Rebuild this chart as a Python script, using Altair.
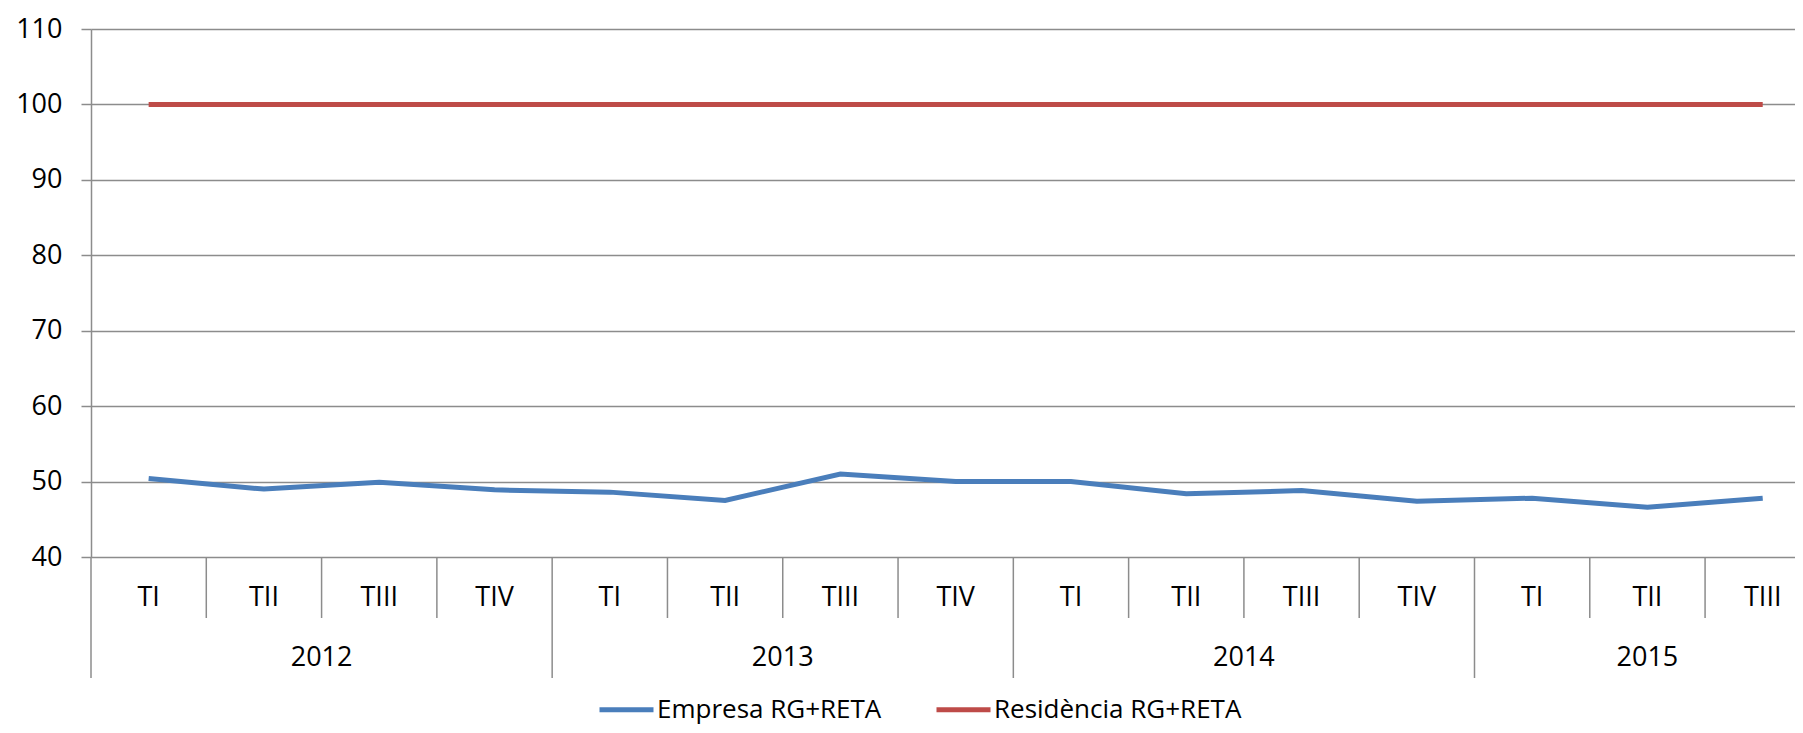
import altair as alt
import pandas as pd

# ---- data ----
quarters = ["TI", "TII", "TIII", "TIV", "TI", "TII", "TIII", "TIV",
            "TI", "TII", "TIII", "TIV", "TI", "TII", "TIII"]
years = ["2012"] * 4 + ["2013"] * 4 + ["2014"] * 4 + ["2015"] * 3
empresa = [50.4, 49.0, 49.9, 48.9, 48.6, 47.5, 51.0, 50.0,
           50.0, 48.4, 48.8, 47.4, 47.8, 46.6, 47.8]
residencia = [100, 100, 100, 100, 100, 100, 100, 100,
              100, 100, 100, 100, 100, 100, 100]
series_names = ["Empresa RG+RETA", "Residència RG+RETA"]
series_colors = ["#4a7ebb", "#be4b48"]
y_ticks = [40, 50, 60, 70, 80, 90, 100, 110]

FONT = "Open Sans"
GRID = "#8c8c8c"
XMAX = 14.78  # visible part of the 15 category bands (reference is cropped on the right)
H = 528
PX = H / 70.0  # pixels per y unit

def below(px):
    """y value located px pixels below the 40 baseline (category axis area)."""
    return 40 - px / PX

# ---- tables ----
rows = []
for i in range(len(quarters)):
    rows.append({"pos": i + 0.5, "value": empresa[i], "series": series_names[0]})
    rows.append({"pos": i + 0.5, "value": residencia[i], "series": series_names[1]})
df = pd.DataFrame(rows)

qdf = pd.DataFrame({"pos": [i + 0.5 for i in range(len(quarters))], "q": quarters,
                    "y": below(41)})

year_list = []
for yv in years:
    if yv not in year_list:
        year_list.append(yv)
ydf_rows, start = [], 0
year_bounds = [0]
for yv in year_list:
    n = years.count(yv)
    ydf_rows.append({"pos": start + n / 2, "year": yv, "y": below(101)})
    start += n
    year_bounds.append(start)
ydf = pd.DataFrame(ydf_rows)

sep_rows = []
for i in range(0, len(quarters) + 1):
    if i >= XMAX:
        continue
    long = i in year_bounds
    sep_rows.append({"pos": i, "y": 40, "y2": below(121 if long else 61)})
sep_df = pd.DataFrame(sep_rows)

xscale = alt.Scale(domain=[0, XMAX], nice=False, zero=False)
yscale = alt.Scale(domain=[40, 110], nice=False, zero=False)

seps = alt.Chart(sep_df).mark_rule(color=GRID, strokeWidth=1.5).encode(
    x=alt.X("pos:Q", scale=xscale, axis=None),
    y=alt.Y("y:Q", scale=yscale),
    y2="y2:Q",
)

lines = alt.Chart(df).mark_line(strokeWidth=5).encode(
    x=alt.X("pos:Q", scale=xscale, axis=None),
    y=alt.Y("value:Q", scale=yscale, axis=alt.Axis(
        values=y_ticks, grid=True, gridColor=GRID, gridWidth=1.5,
        domain=True, domainColor=GRID, domainWidth=1.5,
        ticks=True, tickColor=GRID, tickSize=10, tickWidth=1.5,
        labelFont=FONT, labelFontSize=27, labelColor="#000000",
        labelPadding=19, title=None)),
    color=alt.Color("series:N", scale=alt.Scale(domain=series_names, range=series_colors),
                    legend=alt.Legend(
                        orient="none", legendX=506, legendY=651, direction="horizontal",
                        title=None, symbolType="stroke", symbolStrokeWidth=5,
                        symbolSize=2916, labelFont=FONT, labelFontSize=26,
                        labelColor="#000000", columnPadding=44, labelOffset=1,
                        labelLimit=500, padding=0)),
)

qlabels = alt.Chart(qdf).mark_text(font=FONT, fontSize=27, color="#000000",
                                   baseline="middle", align="center").encode(
    x=alt.X("pos:Q", scale=xscale, axis=None),
    y=alt.Y("y:Q", scale=yscale),
    text="q:N",
)

ylabels = alt.Chart(ydf).mark_text(font=FONT, fontSize=27, color="#000000",
                                   baseline="middle", align="center").encode(
    x=alt.X("pos:Q", scale=xscale, axis=None),
    y=alt.Y("y:Q", scale=yscale),
    text="year:N",
)

chart = alt.layer(seps, lines, qlabels, ylabels).properties(
    width=1704, height=H,
    autosize=alt.AutoSizeParams(type="none"),
    padding={"left": 83, "top": 21, "right": 0, "bottom": 168},
    background="#ffffff",
).configure_view(stroke=None)

chart.save("out.html", embed_options={"renderer": "svg", "actions": False})
